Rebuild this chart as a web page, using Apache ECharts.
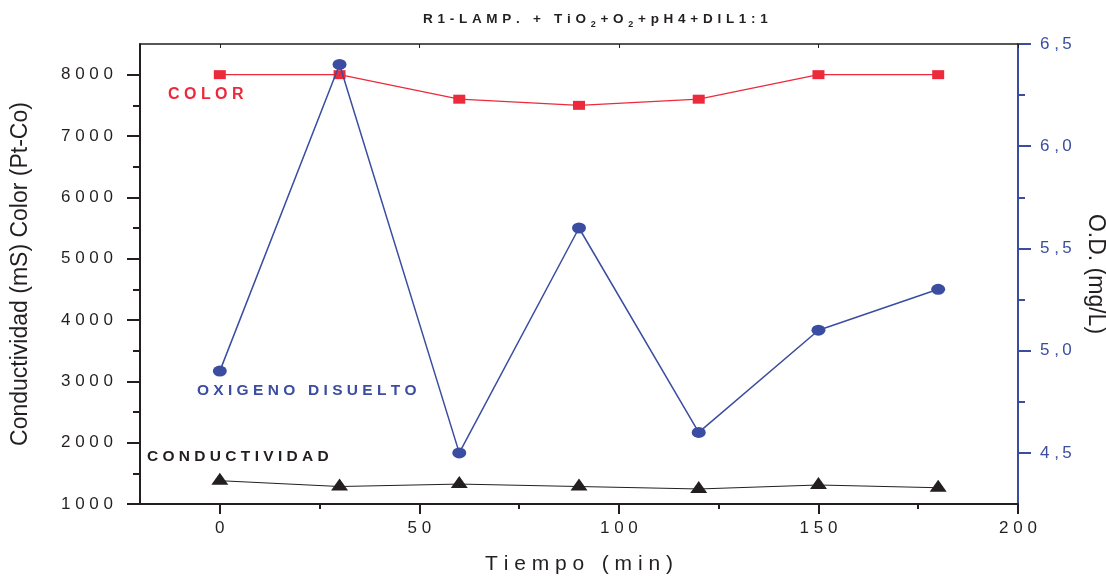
<!DOCTYPE html>
<html>
<head>
<meta charset="utf-8">
<script src="https://cdn.jsdelivr.net/npm/echarts@6/dist/echarts.min.js"></script>
<style>
html, body { margin: 0; padding: 0; background: #fff; }
#chart { width: 1106px; height: 579px; }
</style>
</head>
<body>
<div id="chart"></div>
<script>
// Time (min) and measured series
const tiempo = [0, 30, 60, 90, 120, 150, 180];
const color = [8000, 8000, 7600, 7500, 7600, 8000, 8000];          // Pt-Co
const oxigeno = [4.9, 6.4, 4.5, 5.6, 4.6, 5.1, 5.3];               // mg/L
const conductividad = [1380, 1285, 1325, 1285, 1245, 1310, 1265];  // mS

// Tick positions
const xTicks = [0, 50, 100, 150, 200];
const xMinor = [25, 75, 125, 175];
const leftTicks = [1000, 2000, 3000, 4000, 5000, 6000, 7000, 8000];
const leftMinor = [1500, 2500, 3500, 4500, 5500, 6500, 7500];
const rightTicks = [4.5, 5.0, 5.5, 6.0, 6.5];
const rightMinor = [4.75, 5.25, 5.75, 6.25];

const FONT = '"Liberation Sans", Arial, Helvetica, sans-serif';
const RED = '#ec2a3b';
const BLUE = '#3a4da1';
const INK = '#231f20';

// letter-spaced text
const sp = s => String(s).split('').join(' ');

const pairs = vals => tiempo.map((t, i) => [t, vals[i]]);

// Title with subscripts and wide letter spacing
function titleRich(parts) {
  const out = [];
  parts.forEach(([txt, st]) => {
    txt.split('').forEach(ch => out.push('{' + st + '|' + ch + '}'));
  });
  return out.join('{g| }');
}
const titleText = titleRich([
  ['R1-LAMP. + TiO', 'b'], ['2', 's'], ['+O', 'b'], ['2', 's'], ['+pH4+DIL1:1', 'b']
]);

const chart = echarts.init(document.getElementById('chart'), null, { renderer: 'canvas' });

const baseX = { type: 'value', min: -20, max: 200, splitLine: { show: false } };
const baseLeft = { type: 'value', min: 1000, max: 8500, splitLine: { show: false } };
const baseRight = { type: 'value', min: 4.25, max: 6.5, splitLine: { show: false } };

chart.setOption({
  animation: false,
  backgroundColor: '#ffffff',
  textStyle: { fontFamily: FONT },
  grid: { left: 140, right: 88, top: 44, bottom: 75, outerBoundsMode: 'none', containLabel: false },
  xAxis: [
    Object.assign({}, baseX, {
      position: 'bottom',
      axisLine: { onZero: false, lineStyle: { color: INK, width: 2 } },
      axisTick: { customValues: xTicks, length: 10, lineStyle: { color: INK, width: 2 } },
      axisLabel: {
        customValues: xTicks, formatter: v => sp(v), fontSize: 17, color: INK,
        margin: 16, fontFamily: FONT
      },
      name: sp('Tiempo (min)'),
      nameLocation: 'middle',
      nameGap: 50,
      nameTextStyle: { fontSize: 21, color: INK, fontFamily: FONT }
    }),
    Object.assign({}, baseX, {
      position: 'bottom',
      axisLine: { show: false, onZero: false },
      axisTick: { customValues: xMinor, length: 5, lineStyle: { color: INK, width: 2 } },
      axisLabel: { show: false }
    }),
    Object.assign({}, baseX, {
      position: 'top',
      axisLine: { onZero: false, lineStyle: { color: INK, width: 1.5 } },
      axisTick: { customValues: xTicks, inside: true, length: 4, lineStyle: { color: INK, width: 1 } },
      axisLabel: { show: false }
    })
  ],
  yAxis: [
    Object.assign({}, baseLeft, {
      position: 'left',
      axisLine: { onZero: false, lineStyle: { color: INK, width: 2 } },
      axisTick: { customValues: leftTicks, length: 13, lineStyle: { color: INK, width: 2 } },
      axisLabel: {
        customValues: leftTicks, formatter: v => sp(v), fontSize: 17, color: INK,
        margin: 27, fontFamily: FONT
      },
      name: 'Conductividad (mS) Color (Pt-Co)',
      nameLocation: 'middle',
      nameGap: 108,
      nameTextStyle: { fontSize: 23, color: INK, fontFamily: FONT }
    }),
    Object.assign({}, baseLeft, {
      position: 'left',
      axisLine: { show: false, onZero: false },
      axisTick: { customValues: leftMinor, length: 7, lineStyle: { color: INK, width: 2 } },
      axisLabel: { show: false }
    }),
    Object.assign({}, baseRight, {
      position: 'right',
      axisLine: { onZero: false, lineStyle: { color: BLUE, width: 2 } },
      axisTick: { customValues: rightTicks, length: 13, lineStyle: { color: BLUE, width: 2 } },
      axisLabel: {
        customValues: rightTicks,
        formatter: v => {
          const [a, b] = v.toFixed(1).split('.');
          return a + ' ,' + '\u2009' + b;
        },
        fontSize: 17, color: BLUE, margin: 22, fontFamily: FONT
      },
      name: 'O.D. (mg/L)',
      nameLocation: 'middle',
      nameRotate: -90,
      nameGap: 66,
      nameTextStyle: { fontSize: 23, color: INK, fontFamily: FONT }
    }),
    Object.assign({}, baseRight, {
      position: 'right',
      axisLine: { show: false, onZero: false },
      axisTick: { customValues: rightMinor, length: 7, lineStyle: { color: BLUE, width: 2 } },
      axisLabel: { show: false }
    })
  ],
  series: [
    {
      name: 'COLOR',
      type: 'line',
      xAxisIndex: 0, yAxisIndex: 0,
      data: pairs(color),
      symbol: 'rect', symbolSize: [12, 9],
      itemStyle: { color: RED },
      lineStyle: { color: RED, width: 1.3 },
      z: 3
    },
    {
      name: 'OXIGENO DISUELTO',
      type: 'line',
      xAxisIndex: 0, yAxisIndex: 2,
      data: pairs(oxigeno),
      symbol: 'circle', symbolSize: [14, 11],
      itemStyle: { color: BLUE },
      lineStyle: { color: BLUE, width: 1.5 },
      z: 4
    },
    {
      name: 'CONDUCTIVIDAD',
      type: 'line',
      xAxisIndex: 0, yAxisIndex: 0,
      data: pairs(conductividad),
      symbol: 'triangle', symbolSize: [17, 12], symbolOffset: [0, -2],
      itemStyle: { color: INK },
      lineStyle: { color: INK, width: 1 },
      z: 3
    }
  ],
  graphic: [
    {
      type: 'text', left: 423, top: 11,
      style: {
        text: titleText,
        rich: {
          b: { fontFamily: FONT, fontWeight: 'bold', fontSize: 13.5, fill: INK },
          s: { fontFamily: FONT, fontWeight: 'bold', fontSize: 9, fill: INK, padding: [10, 0, 0, 0] },
          g: { fontFamily: FONT, fontSize: 17, fill: INK }
        }
      }
    },
    {
      type: 'text', x: 168, y: 95,
      style: { text: sp('COLOR'), font: 'bold 16px ' + FONT, fill: RED, verticalAlign: 'middle' }
    },
    {
      type: 'text', x: 197, y: 391,
      style: { text: sp('OXIGENO DISUELTO'), font: 'bold 15.5px ' + FONT, fill: BLUE, verticalAlign: 'middle' }
    },
    {
      type: 'text', x: 147, y: 457,
      style: { text: sp('CONDUCTIVIDAD'), font: 'bold 15.5px ' + FONT, fill: INK, verticalAlign: 'middle' }
    }
  ]
});
</script>
</body>
</html>
